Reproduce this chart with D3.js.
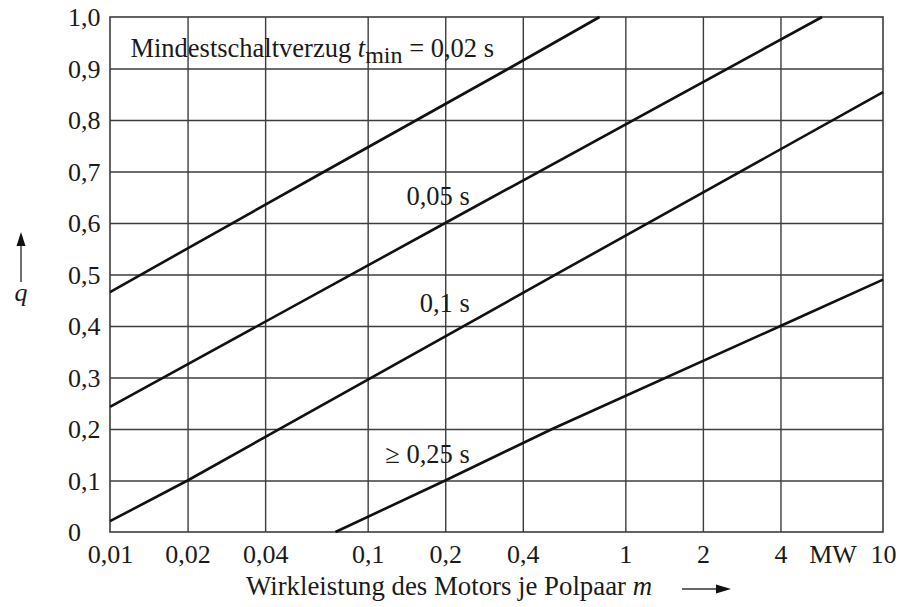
<!DOCTYPE html>
<html>
<head>
<meta charset="utf-8">
<script src="https://cdn.jsdelivr.net/npm/d3@7/dist/d3.min.js"></script>
<style>
  html, body { margin: 0; padding: 0; background: #fff; }
  svg { display: block; }
  text { font-family: "Liberation Serif", "Times New Roman", serif; fill: #1a1a1a; }
</style>
</head>
<body>
<svg id="chart" width="904" height="607"></svg>
<script>
// Power per pole pair m (MW) on a log axis, factor q on a linear axis
const xTicks = [0.01, 0.02, 0.04, 0.1, 0.2, 0.4, 1, 2, 4, 10];
const xGrid  = [0.02, 0.04, 0.1, 0.2, 0.4, 1, 2, 4];
const yTicks = [0, 0.1, 0.2, 0.3, 0.4, 0.5, 0.6, 0.7, 0.8, 0.9, 1.0];

// Curves: minimum switching delay t_min, points as [m, q]
const curve002 = [[0.01, 0.466], [0.068, 0.70], [0.155, 0.80], [0.353, 0.90], [0.794, 1.0]];
const curve005 = [[0.01, 0.243], [0.2, 0.60], [5.8, 1.0]];
const curve01  = [[0.01, 0.021], [0.02, 0.10], [0.56, 0.505], [10, 0.854]];
const curve025 = [[0.075, 0.0], [0.2, 0.10], [0.52, 0.20], [4, 0.40], [10, 0.49]];
const curves = [curve002, curve005, curve01, curve025];

const W = 904, H = 607;
const plotL = 110, plotR = 883, plotT = 17, plotB = 532;

const svg = d3.select("#chart");
svg.append("rect").attr("width", W).attr("height", H).attr("fill", "#fff");

const x = d3.scaleLog().domain([0.01, 10]).range([plotL, plotR]);
const y = d3.scaleLinear().domain([0, 1]).range([plotB, plotT]);

const fmtX = d => String(d).replace(".", ",");
const fmtY = d => d === 0 ? "0" : d.toFixed(1).replace(".", ",");

const gridColor = "#3c3c3c";

// vertical grid
svg.append("g")
  .attr("transform", `translate(0,${plotB})`)
  .call(d3.axisBottom(x).tickValues(xGrid).tickSize(-(plotB - plotT)).tickFormat(""))
  .call(g => g.select(".domain").remove())
  .call(g => g.selectAll("line").attr("stroke", gridColor).attr("stroke-width", 1.4));

// horizontal grid
svg.append("g")
  .attr("transform", `translate(${plotL},0)`)
  .call(d3.axisLeft(y).tickValues(yTicks.slice(1, -1)).tickSize(-(plotR - plotL)).tickFormat(""))
  .call(g => g.select(".domain").remove())
  .call(g => g.selectAll("line").attr("stroke", gridColor).attr("stroke-width", 1.4));

// frame
svg.append("rect")
  .attr("x", plotL).attr("y", plotT)
  .attr("width", plotR - plotL).attr("height", plotB - plotT)
  .attr("fill", "none").attr("stroke", gridColor).attr("stroke-width", 1.6);

// x tick labels
svg.append("g")
  .attr("transform", `translate(0,${plotB})`)
  .call(d3.axisBottom(x).tickValues(xTicks).tickSize(0).tickPadding(0).tickFormat(fmtX))
  .call(g => g.select(".domain").remove())
  .call(g => g.selectAll("text")
      .attr("y", 31).attr("dy", 0)
      .style("font-size", "26px")
      .style("font-family", "'Liberation Serif', serif")
      .attr("fill", "#1a1a1a"));

// unit label between 4 and 10
svg.append("text")
  .attr("x", x(6.4)).attr("y", plotB + 31)
  .attr("text-anchor", "middle")
  .style("font-size", "26px")
  .text("MW");

// y tick labels, left aligned
svg.append("g")
  .attr("transform", `translate(${plotL},0)`)
  .call(d3.axisLeft(y).tickValues(yTicks).tickSize(0).tickFormat(fmtY))
  .call(g => g.select(".domain").remove())
  .call(g => g.selectAll("text")
      .attr("x", 68 - plotL).attr("dy", "0.34em")
      .attr("text-anchor", "start")
      .style("font-size", "26px")
      .style("font-family", "'Liberation Serif', serif")
      .attr("fill", "#1a1a1a"));

// curves
const line = d3.line().x(d => x(d[0])).y(d => y(d[1]));
svg.append("g")
  .selectAll("path")
  .data(curves)
  .join("path")
  .attr("d", line)
  .attr("fill", "none")
  .attr("stroke", "#111")
  .attr("stroke-width", 2.6);

// heading inside the plot for the 0,02 s curve
const t1 = svg.append("text")
  .attr("x", x(0.012)).attr("y", y(0.922))
  .attr("text-anchor", "start")
  .style("font-size", "26.5px");
t1.append("tspan").text("Mindestschaltverzug ");
t1.append("tspan").style("font-style", "italic").text("t");
t1.append("tspan").attr("dy", 6).style("font-size", "24px").text("min");
t1.append("tspan").attr("dy", -6).text(" = 0,02 s");

// remaining curve labels, right aligned at m = 0.249
const labelM = 0.249;
svg.append("text").attr("x", x(labelM)).attr("y", y(0.635))
  .attr("text-anchor", "end").style("font-size", "26.5px").text("0,05 s");
svg.append("text").attr("x", x(labelM)).attr("y", y(0.427))
  .attr("text-anchor", "end").style("font-size", "26.5px").text("0,1 s");
svg.append("text").attr("x", x(labelM)).attr("y", y(0.134))
  .attr("text-anchor", "end").style("font-size", "26.5px").text("≥ 0,25 s");

// x axis title with arrow
const xt = svg.append("text")
  .attr("x", 246).attr("y", 595)
  .style("font-size", "26.8px");
xt.append("tspan").text("Wirkleistung des Motors je Polpaar ");
xt.append("tspan").style("font-style", "italic").text("m");

svg.append("line")
  .attr("x1", 682).attr("x2", 718).attr("y1", 589).attr("y2", 589)
  .attr("stroke", "#333").attr("stroke-width", 1.4);
svg.append("path")
  .attr("d", "M716,584.5 L731,589 L716,593.5 Z")
  .attr("fill", "#111");

// y axis title with arrow
svg.append("line")
  .attr("x1", 21).attr("x2", 21).attr("y1", 282).attr("y2", 244)
  .attr("stroke", "#333").attr("stroke-width", 1.4);
svg.append("path")
  .attr("d", "M16.5,246 L21,232 L25.5,246 Z")
  .attr("fill", "#111");
svg.append("text")
  .attr("x", 21).attr("y", 301)
  .attr("text-anchor", "middle")
  .style("font-size", "26px").style("font-style", "italic")
  .text("q");
</script>
</body>
</html>
